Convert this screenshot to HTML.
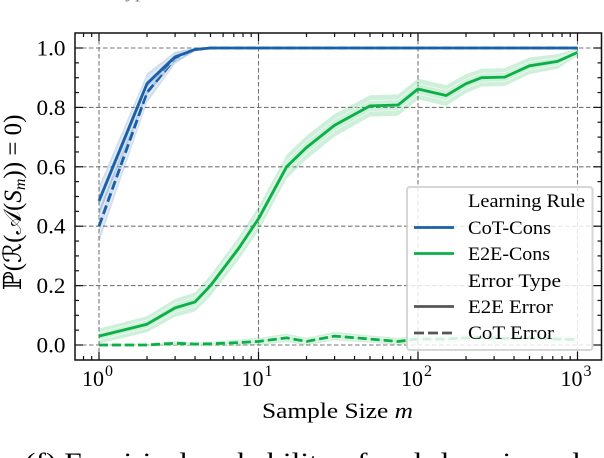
<!DOCTYPE html>
<html>
<head>
<meta charset="utf-8">
<title>Empirical probability chart</title>
<style>
html,body{margin:0;padding:0;background:#fff;width:604px;height:458px;overflow:hidden}
svg{display:block}
text{font-family:"Liberation Serif","DejaVu Serif",serif;fill:#000}
</style>
</head>
<body>
<svg id="chart" width="604" height="458" viewBox="0 0 604 458" xmlns="http://www.w3.org/2000/svg"></svg>
<script>
const sampleSizes = [1,2,3,4,5,7.5,10,15,20,30,50,75,100,150,200,250,350,500,750,1000];
const cotConsE2E = [0.485,0.88,0.97,0.995,1,1,1,1,1,1,1,1,1,1,1,1,1,1,1,1];
const cotConsCoT = [0.40,0.85,0.965,0.995,1,1,1,1,1,1,1,1,1,1,1,1,1,1,1,1];
const e2eConsE2E = [0.03,0.07,0.125,0.145,0.2,0.325,0.425,0.6,0.665,0.74,0.805,0.808,0.862,0.84,0.88,0.90,0.902,0.94,0.955,0.985];
const e2eConsCoT = [0,0,0.006,0.003,0.004,0.008,0.012,0.024,0.012,0.03,0.02,0.012,0.02,0.02,0.024,0.026,0.022,0.024,0.02,0.018];
const cotConsE2EBand = [0.05,0.035,0.018,0.006,0.002,0,0,0,0,0,0,0,0,0,0,0,0,0,0,0];
const cotConsCoTBand = [0.055,0.035,0.018,0.006,0.002,0,0,0,0,0,0,0,0,0,0,0,0,0,0,0];
const e2eConsE2EBand = [0.025,0.027,0.03,0.032,0.035,0.038,0.04,0.04,0.04,0.038,0.036,0.036,0.035,0.035,0.032,0.03,0.03,0.028,0.025,0.012];
const e2eConsCoTBand = [0.004,0.004,0.008,0.006,0.007,0.01,0.012,0.014,0.012,0.014,0.012,0.012,0.012,0.012,0.012,0.012,0.012,0.012,0.012,0.01];
const xMajorTicks = [1,10,100,1000];
const xMajorExponents = ["0","1","2","3"];
const xMinorMultipliers = [2,3,4,5,6,7,8,9];
const yMajorTicks = [0,0.2,0.4,0.6,0.8,1.0];
const yMajorLabels = ["0.0","0.2","0.4","0.6","0.8","1.0"];
const yMinorTicks = [0.05,0.1,0.15,0.25,0.3,0.35,0.45,0.5,0.55,0.65,0.7,0.75,0.85,0.9,0.95,-0.05,1.05];

const NS = "http://www.w3.org/2000/svg";
const svg = document.getElementById("chart");
const box = {l:75, r:601.5, t:33, b:360};
const BLUE = "#1a5fa8", GREEN = "#0ab045";
function xs(v){ return 99 + 159.5 * Math.log10(v); }
function ys(v){ return 345 - 297 * v; }
function mk(tag, attrs, parent){
  const e = document.createElementNS(NS, tag);
  for (const k in attrs) e.setAttribute(k, attrs[k]);
  (parent || svg).appendChild(e);
  return e;
}
function lineD(vals, off, sign){
  return vals.map((v,i)=>(i?"L":"M")+xs(sampleSizes[i]).toFixed(2)+" "+ys(Math.min(1.0,v+(off?sign*off[i]:0))).toFixed(2)).join(" ");
}
function bandD(vals, w){
  let d = lineD(vals,w,1);
  for (let i=vals.length-1;i>=0;i--) d += " L"+xs(sampleSizes[i]).toFixed(2)+" "+ys(vals[i]-w[i]).toFixed(2);
  return d+" Z";
}

/* grid */
const grid = mk("g",{});


xMajorTicks.forEach(v=>{
  const g = mk("line",{x1:xs(v),x2:xs(v),y1:box.t,y2:box.b,stroke:"#777","stroke-width":1.1,"stroke-dasharray":"4.5 2.5"},grid);
  
  
});
yMajorTicks.forEach(v=>{
  const g = mk("line",{x1:box.l,x2:box.r,y1:ys(v),y2:ys(v),stroke:"#777","stroke-width":1.1,"stroke-dasharray":"4.5 2.5"},grid);
  
  
});

/* series */
function drawSeries(vals, w, color, dashed, name){
  const g = mk("g",{});
  
  
  const band = mk("path",{d:bandD(vals,w),fill:color,"fill-opacity":0.2,stroke:"none"},g);
  
  
  const half = w.map(x=>x*0.5);
  mk("path",{d:lineD(vals,half,1),fill:"none",stroke:"#fff","stroke-opacity":0.65,"stroke-width":0.8},g);
  mk("path",{d:lineD(vals,half,-1),fill:"none",stroke:"#fff","stroke-opacity":0.65,"stroke-width":0.8},g);
  const attrs = {d:lineD(vals),fill:"none",stroke:color,"stroke-width":2.8,"stroke-linejoin":"round"};
  if (dashed) attrs["stroke-dasharray"] = "9 4";
  const ln = mk("path",attrs,g);
  
  
}
drawSeries(e2eConsCoT,e2eConsCoTBand,GREEN,true,"e2e-cons-cot-error");
drawSeries(e2eConsE2E,e2eConsE2EBand,GREEN,false,"e2e-cons-e2e-error");
drawSeries(cotConsCoT,cotConsCoTBand,BLUE,true,"cot-cons-cot-error");
drawSeries(cotConsE2E,cotConsE2EBand,BLUE,false,"cot-cons-e2e-error");

/* ticks */
const ticks = mk("g",{stroke:"#111","stroke-width":1.2});


function xTick(x,len){
  mk("line",{x1:x,x2:x,y1:box.b,y2:box.b-len},ticks);
  mk("line",{x1:x,x2:x,y1:box.t,y2:box.t+len},ticks);
}
function yTick(y,len){
  mk("line",{x1:box.l,x2:box.l+len,y1:y,y2:y},ticks);
  mk("line",{x1:box.r,x2:box.r-len,y1:y,y2:y},ticks);
}
xMajorTicks.forEach(v=>xTick(xs(v),8));
[0.1,1,10,100,1000].forEach(d=>xMinorMultipliers.forEach(m=>{
  const x = xs(d*m);
  if (x>box.l && x<box.r) xTick(x,4);
}));
yMajorTicks.forEach(v=>yTick(ys(v),8));
yMinorTicks.forEach(v=>{ const y=ys(v); if(y>box.t+1 && y<box.b-1) yTick(y,4); });

/* legend */
const legend = mk("g",{});


mk("rect",{x:407,y:187,width:185.5,height:163,rx:3,ry:3,fill:"#fff","fill-opacity":0.82,stroke:"#ccc","stroke-opacity":0.8,"stroke-width":2},legend);
function legendText(label,y,len,name){
  const t = mk("text",{x:468,y:y,"font-size":19,textLength:len,lengthAdjust:"spacingAndGlyphs"},legend);
  t.textContent = label;
  
  
}
function legendLine(y,color,dash,name){
  const a = {x1:414,x2:454,y1:y,y2:y,stroke:color,"stroke-width":2.8};
  if (dash) { a["stroke-dasharray"] = "10 4"; a.x2 = 452; }
  const l = mk("line",a,legend);
  
  
}
legendText("Learning Rule",207,117,"legend-title-learning-rule");
legendLine(227.5,BLUE,false,"legend-swatch-cot-cons");
legendText("CoT-Cons",234,83,"legend-entry-cot-cons");
legendLine(253.5,GREEN,false,"legend-swatch-e2e-cons");
legendText("E2E-Cons",260,82,"legend-entry-e2e-cons");
legendText("Error Type",287,93,"legend-title-error-type");
legendLine(306.5,"#555",false,"legend-swatch-e2e-error");
legendText("E2E Error",313,85,"legend-entry-e2e-error");
legendLine(333,"#555",true,"legend-swatch-cot-error");
legendText("CoT Error",339,86,"legend-entry-cot-error");

/* frame */
const frame = mk("rect",{x:box.l,y:box.t,width:box.r-box.l,height:box.b-box.t,fill:"none",stroke:"#111","stroke-width":1.5});



/* tick labels */
yMajorTicks.forEach((v,i)=>{
  const t = mk("text",{x:36.5,y:ys(v)+7.5,"font-size":22,textLength:29,lengthAdjust:"spacingAndGlyphs"});
  t.textContent = yMajorLabels[i];
  
  
});
xMajorTicks.forEach((v,i)=>{
  const t = mk("text",{x:xs(v)-17,y:386,"font-size":22,textLength:22,lengthAdjust:"spacingAndGlyphs"});
  t.textContent = "10";
  
  
  const s = mk("text",{x:xs(v)+6,y:376,"font-size":16});
  s.textContent = xMajorExponents[i];
  
  
});
</script>
<script>
(function(){
  const NS = "http://www.w3.org/2000/svg";
  const svg = document.getElementById("chart");
  const xl = document.createElementNS(NS,"text");
  xl.setAttribute("x","262");
  xl.setAttribute("y","418");
  xl.setAttribute("font-size","22.5");
  xl.setAttribute("textLength","151");
  xl.setAttribute("lengthAdjust","spacingAndGlyphs");
  
  
  xl.innerHTML = 'Sample Size <tspan font-style="italic">m</tspan>';
  svg.appendChild(xl);
  const yl = document.createElementNS(NS,"text");
  yl.setAttribute("transform","translate(21,290) rotate(-90)");
  yl.setAttribute("font-size","25");
  
  
  yl.innerHTML = 'ℙ(ℛ(𝒜(<tspan font-style="italic">S</tspan><tspan font-style="italic" font-size="16" dy="4">m</tspan><tspan dy="-4">)) = 0)</tspan>';
  svg.appendChild(yl);
  const cap = document.createElementNS(NS,"text");
  cap.setAttribute("x","25");
  cap.setAttribute("y","471");
  cap.setAttribute("font-size","26");
  cap.setAttribute("textLength","555");
  cap.setAttribute("lengthAdjust","spacingAndGlyphs");
  
  
  cap.textContent = "(f) Empirical probability of real-domain and";
  svg.appendChild(cap);
  const topCap = document.createElementNS(NS,"text");
  topCap.setAttribute("x","28");
  topCap.setAttribute("y","-3");
  topCap.setAttribute("font-size","20");
  topCap.setAttribute("fill-opacity","0.5");
  
  
  topCap.textContent = "for Action Type";
  svg.appendChild(topCap);
})();
</script>
</body>
</html>
